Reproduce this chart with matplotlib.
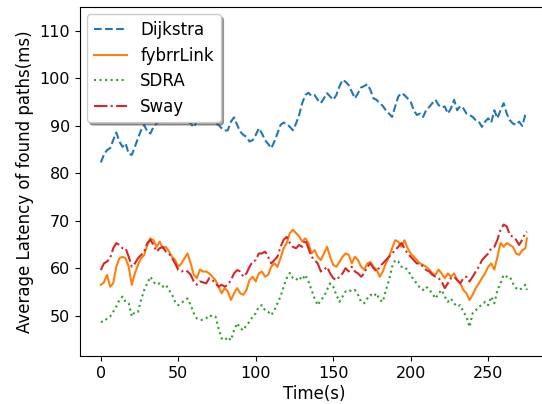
import numpy as np
from matplotlib import pyplot as plt

# time stamps (s)
t = [0, 2, 4, 6, 8, 10, 12, 14, 16, 18, 20, 22, 24, 26, 28, 30, 32, 34, 36, 38,
     40, 42, 44, 46, 48, 50, 52, 54, 56, 58, 60, 62, 64, 66, 68, 70, 72, 74, 76, 78,
     80, 82, 84, 86, 88, 90, 92, 94, 96, 98, 100, 102, 104, 106, 108, 110, 112, 114, 116, 118,
     120, 122, 124, 126, 128, 130, 132, 134, 136, 138, 140, 142, 144, 146, 148, 150, 152, 154, 156, 158,
     160, 162, 164, 166, 168, 170, 172, 174, 176, 178, 180, 182, 184, 186, 188, 190, 192, 194, 196, 198,
     200, 202, 204, 206, 208, 210, 212, 214, 216, 218, 220, 222, 224, 226, 228, 230, 232, 234, 236, 238,
     240, 242, 244, 246, 248, 250, 252, 254, 256, 258, 260, 262, 264, 266, 268, 270, 272, 274, 275]

dijkstra = [82.3, 83.9, 84.9, 85.3, 87.0, 88.6, 86.7, 85.6, 86.3, 84.1, 83.9, 85.6, 87.4, 89.1, 90.2, 88.8, 88.4, 89.8, 90.5, 91.0,
            92.0, 91.5, 93.0, 92.0, 91.5, 92.5, 91.8, 92.5, 91.0, 90.5, 89.7, 91.0, 92.0, 91.2, 92.0, 91.5, 91.0, 90.5, 90.2, 89.5,
            89.0, 89.1, 90.9, 91.8, 90.2, 88.8, 88.1, 87.7, 86.7, 87.0, 88.1, 89.5, 88.4, 87.0, 86.2, 85.3, 86.7, 88.4, 90.2, 90.7,
            90.4, 89.8, 89.1, 90.5, 92.3, 94.8, 96.5, 97.0, 96.3, 96.5, 95.5, 94.8, 95.8, 96.9, 96.2, 95.5, 96.5, 98.3, 99.7, 99.3,
            98.6, 97.2, 95.8, 96.9, 98.1, 98.4, 98.8, 97.6, 95.8, 95.5, 94.8, 94.2, 93.3, 92.6, 91.9, 94.1, 96.2, 96.9, 96.5, 95.8,
            95.1, 93.3, 92.3, 92.6, 91.9, 93.3, 94.0, 94.8, 95.5, 94.4, 93.9, 94.1, 92.6, 93.7, 95.5, 93.3, 94.2, 93.7, 92.6, 92.3,
            91.9, 91.2, 90.9, 89.8, 90.9, 91.6, 90.7, 93.3, 91.6, 93.3, 94.8, 92.6, 91.2, 90.5, 90.2, 90.9, 90.0, 92.3, 92.5]

fybrrlink = [56.5, 57.0, 58.6, 56.1, 56.8, 60.3, 62.1, 62.4, 62.1, 60.3, 56.5, 58.9, 60.7, 62.1, 62.8, 64.9, 66.3, 65.9, 64.5, 65.6,
             64.2, 64.5, 63.5, 62.4, 61.7, 60.3, 61.0, 62.1, 63.1, 61.0, 58.6, 57.9, 59.7, 59.3, 59.3, 58.9, 58.2, 57.5, 56.1, 54.7,
             55.8, 55.1, 53.3, 54.7, 55.8, 54.7, 54.4, 55.4, 57.5, 58.2, 57.2, 58.9, 59.3, 58.2, 58.6, 60.3, 61.0, 60.3, 62.1, 64.2,
             65.3, 67.4, 68.1, 67.4, 66.7, 65.6, 66.3, 65.3, 63.1, 63.8, 62.4, 61.7, 63.1, 64.5, 62.4, 60.7, 60.3, 61.3, 62.4, 63.1,
             62.8, 61.0, 62.4, 61.7, 60.3, 59.7, 61.0, 61.3, 60.3, 59.7, 58.2, 59.3, 61.0, 62.4, 64.2, 65.9, 65.6, 64.5, 65.9, 64.2,
             63.1, 62.4, 61.7, 61.0, 60.7, 60.3, 59.7, 58.9, 58.6, 59.7, 58.9, 57.9, 58.9, 58.2, 58.9, 57.5, 56.8, 55.4, 54.7, 53.3,
             54.4, 55.8, 56.8, 57.9, 58.9, 60.3, 61.0, 59.7, 62.4, 65.3, 64.5, 65.3, 64.9, 64.5, 63.1, 62.8, 63.8, 64.2, 66.3]

sdra = [48.7, 48.7, 49.4, 49.8, 50.8, 51.9, 53.3, 54.0, 52.9, 52.6, 49.8, 50.8, 50.8, 53.3, 55.4, 56.8, 58.2, 57.1, 56.5, 56.8,
        56.1, 56.5, 55.4, 54.4, 52.9, 52.2, 52.6, 53.3, 53.6, 52.2, 50.5, 49.4, 49.1, 49.1, 49.4, 50.1, 49.8, 49.8, 47.3, 45.2,
        44.8, 45.5, 44.8, 46.9, 48.4, 47.3, 46.9, 48.0, 48.7, 49.8, 50.5, 51.9, 52.2, 51.1, 50.8, 50.1, 51.1, 52.6, 54.0, 56.1,
        57.9, 59.0, 57.9, 57.5, 58.2, 57.5, 58.6, 57.2, 55.4, 53.6, 52.2, 53.3, 54.0, 55.4, 56.8, 56.1, 54.4, 52.9, 54.0, 55.1,
        55.4, 55.1, 55.4, 54.4, 52.9, 52.6, 53.6, 54.4, 54.0, 54.7, 53.3, 52.9, 55.4, 57.5, 60.3, 61.7, 61.4, 60.3, 60.3, 59.6,
        58.6, 57.5, 56.8, 55.8, 55.4, 56.1, 55.4, 54.7, 53.6, 54.7, 55.4, 54.0, 52.9, 53.6, 52.6, 51.9, 52.2, 50.8, 49.8, 47.6,
        50.5, 51.1, 51.9, 52.2, 52.9, 52.2, 54.0, 52.6, 55.4, 56.8, 58.6, 58.2, 58.2, 56.8, 55.8, 55.4, 55.8, 56.5, 55.4]

sway = [59.6, 61.0, 61.4, 62.1, 64.2, 65.3, 64.9, 64.2, 64.2, 62.4, 60.3, 61.0, 62.1, 62.8, 63.5, 65.3, 66.0, 64.9, 63.5, 64.2,
        64.5, 63.5, 63.1, 62.1, 61.0, 59.6, 59.3, 59.6, 59.3, 58.6, 57.2, 56.5, 57.2, 57.0, 56.8, 57.9, 57.5, 56.8, 56.1, 56.5,
        56.1, 56.5, 57.5, 58.9, 59.6, 59.3, 58.2, 58.9, 60.3, 61.4, 61.7, 63.1, 63.1, 63.5, 62.4, 61.0, 61.7, 62.4, 64.5, 66.0,
        66.6, 65.3, 64.5, 64.2, 64.9, 64.5, 66.0, 64.2, 62.4, 61.7, 61.0, 59.3, 59.6, 60.3, 58.9, 57.9, 57.5, 58.2, 58.9, 60.0,
        59.3, 60.3, 59.3, 58.9, 58.2, 58.9, 60.3, 61.0, 60.0, 59.3, 60.3, 61.0, 61.7, 62.4, 63.1, 63.8, 64.5, 65.3, 64.2, 63.1,
        62.4, 61.7, 61.0, 61.0, 60.3, 59.6, 59.3, 58.6, 58.2, 57.9, 57.2, 55.8, 56.8, 57.9, 58.2, 57.5, 56.8, 57.9, 58.2, 57.2,
        58.2, 59.3, 60.3, 61.7, 62.4, 63.1, 64.2, 64.5, 66.0, 68.1, 69.2, 68.8, 67.0, 66.6, 66.0, 64.9, 66.0, 67.4, 67.7]

fig = plt.figure(figsize=(5.42, 4.04), dpi=100)
# the right edge of the axes runs past the image, as in the reference
ax = fig.add_axes([0.1467, 0.119, 0.8647, 0.864])

ax.plot(t, dijkstra, linestyle='--', color='#1f77b4', linewidth=1.5, label='Dijkstra')
ax.plot(t, fybrrlink, linestyle='-', color='#ff7f0e', linewidth=1.5, label='fybrrLink')
ax.plot(t, sdra, linestyle=':', color='#2ca02c', linewidth=1.5, label='SDRA')
ax.plot(t, sway, linestyle='-.', color='#d62728', linewidth=1.5, label='Sway')

ax.set_xlim(-13.75, 288.75)
ax.set_ylim(41.5, 115.1)
ax.set_xticks([0, 50, 100, 150, 200, 250])
ax.set_yticks([50, 60, 70, 80, 90, 100, 110])
ax.tick_params(labelsize=11.5)
ax.set_xlabel('Time(s)', fontsize=12, labelpad=3)
ax.set_ylabel('Average Latency of found paths(ms)', fontsize=12, labelpad=4)
ax.legend(loc='upper left', fontsize=12, shadow=True, framealpha=1,
          labelspacing=0.45, bbox_to_anchor=(0.0, 1.0), borderaxespad=0.45)

plt.savefig('out.png', dpi=100)
